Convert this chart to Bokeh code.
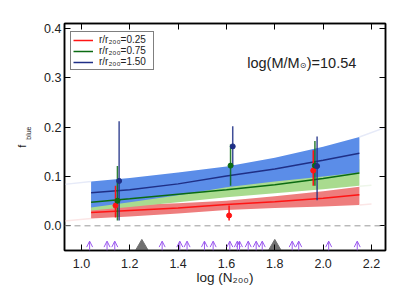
from bokeh.plotting import figure
from bokeh.models import (ColumnDataSource, Range1d, LinearAxis, Legend, LegendItem,
                          Label, Arrow, OpenHead, Span, FixedTicker, CustomJSTickFormatter,
                          PrintfTickFormatter)
from bokeh.embed import file_html
from bokeh.resources import INLINE

# ---------------- data ----------------
band_x = [1.04, 1.20, 1.40, 1.60, 1.80, 2.00, 2.15]

red_mid = [0.027, 0.031, 0.036, 0.043, 0.049, 0.056, 0.063]
red_hi = [0.038, 0.042, 0.046, 0.051, 0.060, 0.070, 0.079]
red_lo = [0.015, 0.019, 0.025, 0.032, 0.036, 0.039, 0.042]

green_mid = [0.048, 0.055, 0.064, 0.073, 0.083, 0.096, 0.107]
green_hi = [0.065, 0.072, 0.083, 0.095, 0.108, 0.122, 0.135]
green_lo = [0.031, 0.038, 0.048, 0.058, 0.066, 0.074, 0.081]

blue_mid = [0.067, 0.073, 0.085, 0.101, 0.115, 0.133, 0.147]
blue_hi = [0.090, 0.097, 0.108, 0.120, 0.138, 0.160, 0.180]
blue_lo = [0.037, 0.048, 0.062, 0.078, 0.090, 0.100, 0.108]

# faint extrapolations of the bands
ext_left_x = [0.93, 1.04]
ext_left_blue = [0.084, 0.090]
ext_left_red = [0.010, 0.015]
ext_right_x = [2.15, 2.25]
ext_right_blue = [0.180, 0.198]
ext_right_x2 = [2.15, 2.20]
ext_right_green = [0.080, 0.082]
ext_right_red = [0.042, 0.044]

# measured points with error bars
red_px = [1.141, 1.611, 1.959]
red_py = [0.041, 0.021, 0.112]
red_plo = [0.017, 0.011, 0.081]
red_phi = [0.081, 0.041, 0.153]

green_px = [1.149, 1.617, 1.966]
green_py = [0.051, 0.122, 0.122]
green_plo = [0.011, 0.081, 0.081]
green_phi = [0.121, 0.165, 0.172]

blue_px = [1.156, 1.626, 1.975]
blue_py = [0.091, 0.161, 0.121]
blue_plo = [0.011, 0.120, 0.052]
blue_phi = [0.212, 0.202, 0.181]

# individual clusters (arrows) and bin markers (triangles)
arrow_x = [1.034, 1.106, 1.138, 1.334, 1.407, 1.437, 1.509, 1.545, 1.614,
           1.645, 1.654, 1.690, 1.723, 1.748, 1.872, 1.899, 2.023, 2.141]
tri_x = [1.25, 1.80]

legend_labels = ["r/r\u2082\u2080\u2080=0.25", "r/r\u2082\u2080\u2080=0.75", "r/r\u2082\u2080\u2080=1.50"]
mass_parts = ["log(M/M", "\u2299", ")=10.54"]
ylabel_main = "f"
ylabel_sub = "blue"

x_ticks = [1.0, 1.2, 1.4, 1.6, 1.8, 2.0, 2.2]
y_ticks = [0.0, 0.1, 0.2, 0.3, 0.4]

# ---------------- styles ----------------
FONT = "Liberation Sans"
C_RED_BAND = "#ee7d7d"
C_GREEN_BAND = "#a9db8f"
C_BLUE_BAND = "#5b8de8"
C_RED = "#ff1414"
C_GREEN = "#0b6b12"
C_BLUE = "#1f2f86"
C_ARROW = "#9b59ef"
C_TEXT = "#222222"
NBSP = "\u00a0"

p = figure(frame_width=321, frame_height=227,
           min_border_left=64, min_border_right=10, min_border_top=23, min_border_bottom=30,
           x_range=Range1d(0.93, 2.258), y_range=Range1d(-0.05, 0.41),
           output_backend="svg", toolbar_location=None,
           background_fill_color="white", border_fill_color="white")
p.xgrid.visible = False
p.ygrid.visible = False
p.outline_line_color = "black"
p.outline_line_width = 1.5

bottom_ax = p.below[0]
left_ax = p.left[0]


def style_axis(ax, ticks, minor, labels=True):
    ax.ticker = FixedTicker(ticks=ticks, num_minor_ticks=minor)
    ax.major_tick_in = 6
    ax.major_tick_out = 0
    ax.minor_tick_in = 3
    ax.minor_tick_out = 0
    ax.axis_line_color = "black"
    ax.axis_line_width = 1.5
    ax.major_tick_line_color = "black"
    ax.minor_tick_line_color = "black"
    ax.major_label_text_font = FONT
    ax.major_label_text_font_size = "12.5px"
    ax.major_label_text_color = C_TEXT
    if labels:
        ax.formatter = PrintfTickFormatter(format="%.1f")
    else:
        ax.formatter = CustomJSTickFormatter(code="return ''")
        ax.major_label_text_font_size = "0px"
        ax.major_label_standoff = 0


style_axis(bottom_ax, x_ticks, 4)
style_axis(left_ax, y_ticks, 10)
bottom_ax.major_label_standoff = 8
left_ax.major_label_standoff = 3

top_ax = LinearAxis()
right_ax = LinearAxis()
style_axis(top_ax, x_ticks, 4, labels=False)
style_axis(right_ax, y_ticks, 10, labels=False)
p.add_layout(top_ax, "above")
p.add_layout(right_ax, "right")

bottom_ax.axis_label = "log (N\u2082\u2080\u2080)"
bottom_ax.axis_label_text_font = FONT
bottom_ax.axis_label_text_font_style = "normal"
bottom_ax.axis_label_text_font_size = "13.5px"
bottom_ax.axis_label_standoff = -1
bottom_ax.axis_label_text_color = C_TEXT


# y-axis title f_blue: two label-only axes; "blue" (subscript) sits nearer the frame
def label_axis(text, size, standoff):
    ax = LinearAxis(axis_label=text)
    ax.ticker = FixedTicker(ticks=[])
    ax.formatter = CustomJSTickFormatter(code="return ''")
    ax.axis_line_color = None
    ax.major_tick_line_color = None
    ax.minor_tick_line_color = None
    ax.major_tick_in = 0
    ax.major_tick_out = 0
    ax.minor_tick_in = 0
    ax.minor_tick_out = 0
    ax.major_label_text_font_size = "0px"
    ax.major_label_standoff = 0
    ax.axis_label_standoff = standoff
    ax.axis_label_text_font = FONT
    ax.axis_label_text_font_style = "normal"
    ax.axis_label_text_font_size = size
    ax.axis_label_text_color = C_TEXT
    return ax


p.add_layout(label_axis(NBSP * 4 + ylabel_sub, "7px", 10), "left")
p.add_layout(label_axis(ylabel_main + NBSP * 6, "11px", -6), "left")

# bands
p.varea(x=band_x, y1=red_lo, y2=red_hi, fill_color=C_RED_BAND)
p.varea(x=band_x, y1=green_lo, y2=green_hi, fill_color=C_GREEN_BAND)
p.varea(x=band_x, y1=blue_lo, y2=blue_hi, fill_color=C_BLUE_BAND)

# faint extrapolations
p.line(ext_left_x, ext_left_blue, line_color="#e6eaf8", line_width=1.5)
p.line(ext_left_x, ext_left_red, line_color="#fbe6e6", line_width=1.5)
p.line(ext_right_x, ext_right_blue, line_color="#e6eaf8", line_width=1.5)
p.line(ext_right_x2, ext_right_green, line_color="#eef6ea", line_width=1.5)
p.line(ext_right_x2, ext_right_red, line_color="#fbe6e6", line_width=1.5)

# zero line
p.add_layout(Span(location=0, dimension="width", line_color="#999999",
                  line_width=1, line_dash="6 4"))

# model lines
r_red = p.line(band_x, red_mid, line_color=C_RED, line_width=1.5)
r_green = p.line(band_x, green_mid, line_color=C_GREEN, line_width=1.5)
r_blue = p.line(band_x, blue_mid, line_color=C_BLUE, line_width=1.5)

# error bars and points
p.segment(x0=red_px, y0=red_plo, x1=red_px, y1=red_phi, line_color=C_RED, line_width=1.5)
p.segment(x0=green_px, y0=green_plo, x1=green_px, y1=green_phi, line_color=C_GREEN, line_width=1.5, line_alpha=0.85)
p.segment(x0=blue_px, y0=blue_plo, x1=blue_px, y1=blue_phi, line_color=C_BLUE, line_width=1.5, line_alpha=0.85)
p.scatter(red_px, red_py, size=5, color=C_RED)
p.scatter(green_px, green_py, size=5, color=C_GREEN)
p.scatter(blue_px, blue_py, size=5, color=C_BLUE)

# arrows for individual clusters
n = len(arrow_x)
arr_src = ColumnDataSource(dict(x=arrow_x, y0=[-0.05] * n, y1=[-0.031] * n))
p.add_layout(Arrow(end=OpenHead(size=6, line_color=C_ARROW, line_width=1),
                   x_start="x", y_start="y0", x_end="x", y_end="y1",
                   source=arr_src, line_color=C_ARROW, line_width=1))

# triangles
p.scatter(tri_x, [-0.0415] * len(tri_x), marker="triangle", size=12,
          fill_color="#707070", line_color="#707070")

# legend
legend = Legend(items=[LegendItem(label=legend_labels[0], renderers=[r_red]),
                       LegendItem(label=legend_labels[1], renderers=[r_green]),
                       LegendItem(label=legend_labels[2], renderers=[r_blue])],
                location=(6, 180), margin=0, padding=2, spacing=0,
                glyph_width=20, glyph_height=10, label_height=10, label_standoff=6,
                label_width=52,
                label_text_font=FONT, label_text_font_size="10px",
                label_text_color=C_TEXT,
                border_line_color="black", border_line_width=1.5,
                background_fill_color="white", background_fill_alpha=1)
p.add_layout(legend)

# annotation text log(M/Msun)=10.54 with subscript sun symbol
mx, my = 1.686, 0.330
p.add_layout(Label(x=mx, y=my, text=mass_parts[0], text_font=FONT,
                   text_font_size="14.5px", text_color=C_TEXT,
                   text_baseline="alphabetic", text_align="left"))
p.add_layout(Label(x=mx, y=my, x_offset=52.5, y_offset=-3, text=mass_parts[1],
                   text_font="DejaVu Sans", text_font_size="8px", text_color=C_TEXT,
                   text_baseline="alphabetic", text_align="left"))
p.add_layout(Label(x=mx, y=my, x_offset=59.5, text=mass_parts[2], text_font=FONT,
                   text_font_size="14.5px", text_color=C_TEXT,
                   text_baseline="alphabetic", text_align="left"))

open("out.html", "w").write(file_html(p, INLINE))
